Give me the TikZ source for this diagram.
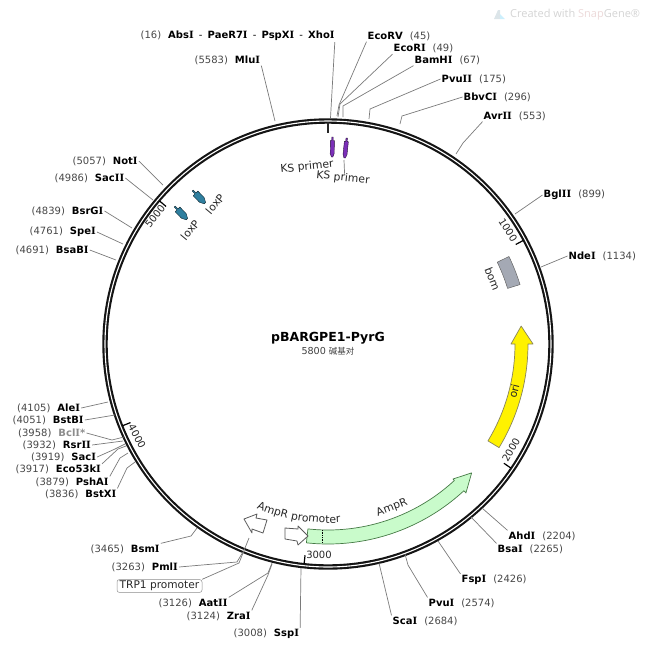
\documentclass[tikz,border=0pt]{standalone}
\usepackage{fontspec}
\setmainfont{DejaVu Sans}
\newfontfamily\cjk{Noto Sans CJK SC}
\newfontfamily\wm{Open Sans}
\newfontfamily\dvs{DejaVu Serif}
\usetikzlibrary{decorations.text}
\definecolor{posgrey}{gray}{0.28}
\definecolor{conngrey}{gray}{0.48}
\definecolor{ampgreen}{HTML}{C9FBCB}
\definecolor{loxteal}{HTML}{2F7F9F}
\definecolor{ksviolet}{HTML}{7B2FB8}
\definecolor{bomgrey}{HTML}{A4A9B4}
\pgfmathdeclarefunction{ax}{2}{\pgfmathparse{328+#1*sin(#2)}}
\pgfmathdeclarefunction{ay}{2}{\pgfmathparse{344-#1*cos(#2)}}
\newcommand\defp[3]{\coordinate (#1) at ({ax(#2,#3)},{ay(#2,#3)});}
\newcommand\nm[1]{\textbf{#1}}
\newcommand\II{{\dvs I}}
\newcommand\ps[1]{\textcolor{posgrey}{(#1)}}
\newcommand\lft[4]{\node[sitelab] (#1) at (#2,#3) {#4};}
\newcommand\tick[2]{\defp{#1a}{221}{#2}\defp{#1b}{212.5}{#2}\draw[tickline] (#1a) -- (#1b);}
\tikzset{
  x=1pt,y=-1pt,
  sitelab/.style={anchor=west,inner sep=1pt,font=\fontsize{10}{12}\selectfont},
  conn/.style={draw=conngrey,line width=0.7pt},
  tickline/.style={draw=black,line width=1.2pt},
  ticklab/.style={inner sep=0pt,font=\fontsize{10}{12}\selectfont,text=black!85},
  featlab/.style={inner sep=0pt,font=\fontsize{10.8}{12}\selectfont,text=black!85},
  whitearrow/.style={draw=black!65,fill=white,line width=0.8pt,line join=round},
  tinyfeat/.style={line width=0.4pt,line join=round},
}
\begin{document}
\begin{tikzpicture}
\useasboundingbox (0,0) rectangle (649,649);

% watermark
\node[inner sep=0pt,anchor=west,font=\wm\fontsize{11}{13}\selectfont,text=black!17] (wmark) at (510,14.5)
  {Created with \textcolor{red!50!black!15}{Snap}Gene®};
\fill[cyan!25!gray!25] (494,19) -- (498,10) -- (500,10) -- (500,19) -- cycle;
\fill[cyan!20] (500,14) -- (505,19) -- (500,19) -- cycle;

% backbone
\draw[black!92,line width=5.4pt] (328,344) circle[radius=223];
\draw[white,line width=1.1pt] (328,344) circle[radius=223];

% origin and ticks
\draw[black!85,line width=2.6pt] (328,122) -- (328,133);
\tick{ta}{62.07}
\tick{tb}{124.14}
\tick{tc}{186.2}
\tick{td}{248.3}
\tick{te}{310.34}
\node[ticklab,rotate=-58] (l1000) at (508,230) {1000};
\node[ticklab,rotate=60]  (l2000) at (511,450) {2000};
\node[ticklab]            (l3000) at (319,555) {3000};
\node[ticklab,rotate=-62] (l4000) at (137,436.5) {4000};
\node[ticklab,rotate=52]  (l5000) at (155,216) {5000};

% center title
\node[inner sep=0pt,font=\fontsize{12.5}{14}\selectfont\bfseries] (title) at (328,338) {pBARGPE1-PyrG};
\node[inner sep=0pt,font=\fontsize{9.6}{11}\selectfont,text=black!75] (size) at (328,351) {5800 {\cjk\fontsize{8.5}{10}\selectfont 碱基对}};

% ori
\defp{oh1}{205}{90}\defp{oh2}{183}{90}\defp{otip}{194}{84.7}
\draw[draw=black!55!yellow!70!gray,fill=yellow,line width=0.7pt,line join=round]
  plot[domain=121.2:90,samples=40] ({ax(200,\x)},{ay(200,\x)})
  -- (oh1) -- (otip) -- (oh2)
  -- plot[domain=90:121.2,samples=40] ({ax(187,\x)},{ay(187,\x)}) -- cycle;
\node[featlab,rotate=76] (lori) at (514,391) {ori};

% bom
\draw[draw=black!60,fill=bomgrey,line width=0.5pt]
  plot[domain=64.2:72.8,samples=12] ({ax(201,\x)},{ay(201,\x)})
  -- plot[domain=72.8:64.2,samples=12] ({ax(188,\x)},{ay(188,\x)}) -- cycle;
\node[featlab,rotate=-69] (lbom) at (492.5,279) {bom};

% AmpR
\defp{ah1}{203}{137.2}\defp{ah2}{184}{137.2}\defp{atip}{193}{131.9}
\draw[draw=black!55!green!45!gray,fill=ampgreen,line width=0.7pt,line join=round]
  plot[domain=186.2:137.2,samples=60] ({ax(200,\x)},{ay(200,\x)})
  -- (ah1) -- (atip) -- (ah2)
  -- plot[domain=137.2:186.2,samples=60] ({ax(186,\x)},{ay(186,\x)}) -- cycle;
\draw[black,line width=0.7pt,densely dotted] (322,530) -- (322,543);
\node[featlab,rotate=21] (lampr) at (392,508) {AmpR};

% AmpR promoter
\draw[whitearrow] (285,528) -- (298,529) -- (298,526) -- (308,536) -- (298,545) -- (297,541) -- (285,539) -- cycle;
\path[decorate,decoration={text along path,text align=left,
   text={|\fontsize{10.8}{12}\selectfont\color{black!85}|AmpR promoter}}]
  plot[domain=203.5:170,samples=40] ({ax(179,\x)},{ay(179,\x)});

% TRP1 promoter
\draw[whitearrow] (244,519) -- (257,514) -- (256,518) -- (267,520) -- (263,533) -- (252,529) -- (252,533) -- cycle;
\node[draw=black!45,rounded corners=2.5pt,line width=0.5pt,inner xsep=2pt,inner ysep=1.5pt,minimum width=85pt,minimum height=12.5pt,
  font=\fontsize{10.6}{12}\selectfont,text=black!85] (ltrp) at (159.5,586) {TRP1 promoter};
\coordinate (trptip) at (249,538);
\draw[conn] (ltrp.north east) -- (239,563) -- (trptip);

% loxP
\foreach \cx/\cy/\n in {199/197/1,181/213/2}{
  \draw[tinyfeat,draw=black!70!loxteal,fill=loxteal,shift={(\cx,\cy)},rotate=-46]
    (-9,-0.7) -- (-5,-0.7) -- (-5,-3.3) -- (4,-3.3) -- (8.5,-1) -- (8.5,1) -- (4,3.3) -- (-5,3.3) -- (-5,0.7) -- (-9,0.7) -- cycle;
}
\node[featlab,rotate=50] (llox1) at (215,204) {loxP};
\node[featlab,rotate=50] (llox2) at (190,230) {loxP};

% KS primers
\draw[tinyfeat,draw=black!70!ksviolet,fill=ksviolet,shift={(332.3,147)},rotate=-91]
  (-10,-0.7) -- (-6.5,-0.7) -- (-6.5,-2) -- (6.5,-2) -- (10,-0.7) -- (10,0.7) -- (6.5,2) -- (-6.5,2) -- (-6.5,0.7) -- (-10,0.7) -- cycle;
\draw[tinyfeat,draw=black!70!ksviolet,fill=ksviolet,shift={(345.7,148)},rotate=-96]
  (-10,-0.7) -- (-6.5,-0.7) -- (-6.5,-2) -- (6.5,-2) -- (10,-0.7) -- (10,0.7) -- (6.5,2) -- (-6.5,2) -- (-6.5,0.7) -- (-10,0.7) -- cycle;
\node[featlab,rotate=6] (lks1) at (307,167) {KS primer};
\node[featlab,rotate=-6] (lks2) at (343,178) {KS primer};
\coordinate (ks2end) at (344,160);
\draw[conn] (lks2.north) ++(1,1) -- (ks2end);

% top sites
\lft{sAbs}{139.5}{36}{\ps{16}\hspace{7pt}\nm{Abs\II}\hspace{2pt} - \hspace{2pt}\nm{PaeR7\II}\hspace{2pt} - \hspace{2pt}\nm{PspX\II}\hspace{2pt} - \hspace{2pt}\nm{Xho\II}}
\lft{sMlu}{193.5}{60}{\ps{5583}\hspace{7pt}\nm{Mlu\II}}
\lft{sRV}{366.5}{36}{\nm{EcoRV}\hspace{7pt}\ps{45}}
\lft{sRI}{392.5}{48.5}{\nm{EcoR\II}\hspace{7pt}\ps{49}}
\lft{sBam}{413.5}{60}{\nm{BamH\II}\hspace{7pt}\ps{67}}
\lft{sPvu2}{440.5}{79}{\nm{Pvu\II\II}\hspace{7pt}\ps{175}}
\lft{sBbv}{462.5}{97}{\nm{BbvC\II}\hspace{7pt}\ps{296}}
\lft{sAvr}{482.5}{116}{\nm{Avr\II\II}\hspace{7pt}\ps{553}}
\lft{sBgl}{542.5}{195}{\nm{Bgl\II\II}\hspace{7pt}\ps{899}}
\lft{sNde}{567.5}{256}{\nm{Nde\II}\hspace{7pt}\ps{1134}}
% right bottom
\lft{sAhd}{507.5}{536}{\nm{Ahd\II}\hspace{7pt}\ps{2204}}
\lft{sBsa}{496.5}{549}{\nm{Bsa\II}\hspace{7pt}\ps{2265}}
\lft{sFsp}{460.5}{580}{\nm{Fsp\II}\hspace{7pt}\ps{2426}}
\lft{sPvu}{427.5}{603}{\nm{Pvu\II}\hspace{7pt}\ps{2574}}
\lft{sSca}{391.5}{621}{\nm{Sca\II}\hspace{7pt}\ps{2684}}
% bottom
\lft{sSsp}{232.5}{634}{\ps{3008}\hspace{7pt}\nm{Ssp\II}}
\lft{sZra}{185.5}{616}{\ps{3124}\hspace{7pt}\nm{Zra\II}}
\lft{sAat}{157.5}{603}{\ps{3126}\hspace{7pt}\nm{Aat\II\II}}
\lft{sPml}{110.5}{567}{\ps{3263}\hspace{7pt}\nm{Pml\II}}
\lft{sBsm}{89.5}{549}{\ps{3465}\hspace{7pt}\nm{Bsm\II}}
% left lower
\lft{sBstX}{44}{494}{\ps{3836}\hspace{7pt}\nm{BstX\II}}
\lft{sPsh}{34.5}{482}{\ps{3879}\hspace{7pt}\nm{PshA\II}}
\lft{sEco}{14.5}{469.5}{\ps{3917}\hspace{7pt}\nm{Eco53k\II}}
\lft{sSac}{30}{457}{\ps{3919}\hspace{7pt}\nm{Sac\II}}
\lft{sRsr}{21.5}{445}{\ps{3932}\hspace{7pt}\nm{Rsr\II\II}}
\lft{sBcl}{17}{433}{\ps{3958}\hspace{7pt}\textcolor{black!45}{\nm{Bcl\II*}}}
\lft{sBstB}{11.5}{420}{\ps{4051}\hspace{7pt}\nm{BstB\II}}
\lft{sAle}{16}{408}{\ps{4105}\hspace{7pt}\nm{Ale\II}}
% left upper
\lft{sBsaB}{14.5}{250}{\ps{4691}\hspace{7pt}\nm{BsaB\II}}
\lft{sSpe}{28.5}{232}{\ps{4761}\hspace{7pt}\nm{Spe\II}}
\lft{sBsr}{30.5}{211}{\ps{4839}\hspace{7pt}\nm{BsrG\II}}
\lft{sSacII}{53.5}{178}{\ps{4986}\hspace{7pt}\nm{Sac\II\II}}
\lft{sNot}{71.5}{161}{\ps{5057}\hspace{7pt}\nm{Not\II}}

% ring ends
\coordinate (eAbs) at (330.5,118);
\coordinate (eMlu) at (275,121);
\coordinate (eRV) at (337,116);
\coordinate (eRI) at (338,117);
\coordinate (eBam) at (343,117);
\coordinate (ePvu2) at (369,119);
\coordinate (eBbv) at (400,124);
\coordinate (eAvr) at (456,154);
\coordinate (eBgl) at (515,214);
\coordinate (eNde) at (541,267);
\coordinate (eAhd) at (482,508);
\coordinate (eBsa) at (471,517);
\coordinate (eFsp) at (438,541);
\coordinate (ePvu) at (405,554);
\coordinate (eSca) at (379,563);
\coordinate (eSsp) at (301,568);
\coordinate (eZra) at (272,564);
\coordinate (eAat) at (272,563);
\coordinate (ePml) at (243,552);
\coordinate (eBsm) at (197,528);
\coordinate (eBstX) at (135,462);
\coordinate (ePsh) at (128,453);
\coordinate (eEco) at (126,446);
\coordinate (eSac) at (125,444);
\coordinate (eRsr) at (123,441);
\coordinate (eBcl) at (124,437);
\coordinate (eBstB) at (115,415);
\coordinate (eAle) at (108,402);
\coordinate (eBsaB) at (116,260);
\coordinate (eSpe) at (123,244);
\coordinate (eBsr) at (132,228);
\coordinate (eSacII) at (153,200);
\coordinate (eNot) at (163,185);

% connectors
\draw[conn] ([xshift=-1pt]sAbs.south east) -- (eAbs);
\draw[conn] (sMlu.south east) -- (eMlu);
\draw[conn] (sRV.south west) -- (339,105) -- (eRV);
\draw[conn] (sRI.south west) -- (340,104) -- (eRI);
\draw[conn] (sBam.south west) -- (343,106) -- (eBam);
\draw[conn] (sPvu2.west) -- (370,109) -- (ePvu2);
\draw[conn] (sBbv.west) -- (402,116) -- (eBbv);
\draw[conn] (sAvr.south west) -- (463,143) -- (eAvr);
\draw[conn] (sBgl.west) -- (eBgl);
\draw[conn] (sNde.west) -- (eNde);
\draw[conn] (sAhd.north west) -- (eAhd);
\draw[conn] (sBsa.north west) -- (eBsa);
\draw[conn] (sFsp.north west) -- (eFsp);
\draw[conn] (sPvu.north west) -- (408,565) -- (ePvu);
\draw[conn] (sSca.north west) -- (eSca);
\draw[conn] (sSsp.north east) -- (eSsp);
\draw[conn] (sZra.north east) -- (268,575) -- (eZra);
\draw[conn] (sAat.north east) -- (268,573) -- (eAat);
\draw[conn] (sPml.east) -- (237,562) -- (ePml);
\draw[conn] (sBsm.north east) -- (191,536) -- (eBsm);
\draw[conn] (sBstX.north east) -- (127,468) -- (eBstX);
\draw[conn] (sPsh.north east) -- (120,458) -- (ePsh);
\draw[conn] (sEco.north east) -- (118,449) -- (eEco);
\draw[conn] (sSac.east) -- (115,449) -- (eSac);
\draw[conn] (sRsr.east) -- (eRsr);
\draw[conn] (sBcl.east) -- (112,440) -- (eBcl);
\draw[conn] (sBstB.east) -- (eBstB);
\draw[conn] (sAle.east) -- (eAle);
\draw[conn] (sBsaB.east) -- (eBsaB);
\draw[conn] (sSpe.east) -- (eSpe);
\draw[conn] (sBsr.east) -- (eBsr);
\draw[conn] (sSacII.east) -- (eSacII);
\draw[conn] (sNot.east) -- (eNot);
\end{tikzpicture}
\end{document}
